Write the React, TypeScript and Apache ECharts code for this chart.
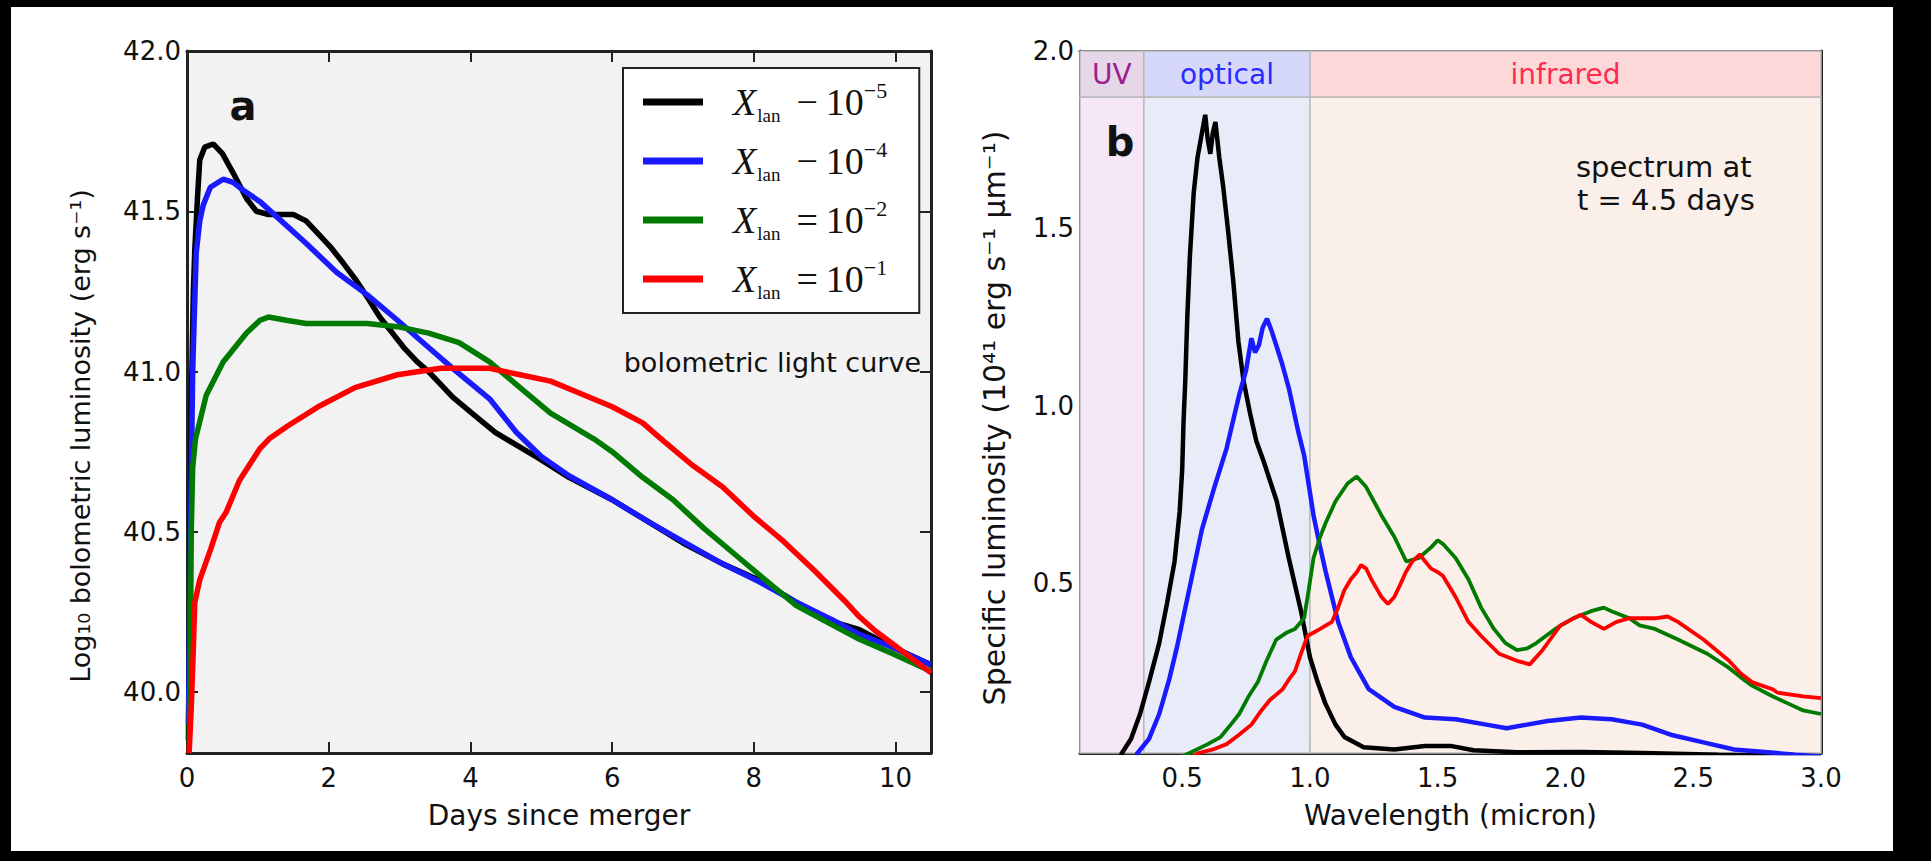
import React, { useEffect, useRef } from "react";
import * as echarts from "echarts";

// ---------- Panel a: bolometric light curves ----------
const seriesNames = ["X_lan = 1e-5", "X_lan = 1e-4", "X_lan = 1e-2", "X_lan = 1e-1"];
const legendOps = ["−", "−", "=", "="];
const legendExps = ["−5", "−4", "−2", "−1"];
const seriesColors = ["#000000", "#1a1aff", "#007a00", "#ff0000"];

const daysTicks = [0, 2, 4, 6, 8, 10];
const logLTicks = [40.0, 40.5, 41.0, 41.5, 42.0];

const lcBlack: number[][] = [
  [0.02, 39.85], [0.04, 40.3], [0.06, 40.9], [0.09, 41.25], [0.11, 41.38], [0.15, 41.55], [0.18, 41.66],
  [0.25, 41.7], [0.37, 41.71], [0.5, 41.68], [0.65, 41.62], [0.84, 41.54], [0.98, 41.5], [1.15, 41.49],
  [1.33, 41.49], [1.5, 41.49], [1.68, 41.47], [1.85, 41.43], [2.02, 41.39], [2.2, 41.34], [2.37, 41.29],
  [2.55, 41.23], [2.72, 41.17], [2.9, 41.12], [3.06, 41.075], [3.25, 41.03], [3.41, 41.0], [3.6, 40.955],
  [3.75, 40.92], [4.05, 40.865], [4.35, 40.81], [4.96, 40.73], [5.39, 40.67], [6.0, 40.6], [6.52, 40.53],
  [7.04, 40.46], [7.56, 40.4], [8.07, 40.35], [8.6, 40.28], [9.11, 40.22], [9.49, 40.195], [9.96, 40.14],
  [10.5, 40.085],
];
const lcBlue: number[][] = [
  [0.02, 39.9], [0.05, 40.5], [0.08, 41.0], [0.1, 41.15], [0.13, 41.37], [0.18, 41.47], [0.23, 41.52],
  [0.33, 41.575], [0.51, 41.6], [0.65, 41.59], [0.8, 41.565], [1.03, 41.53], [1.33, 41.47], [1.68, 41.4],
  [2.11, 41.31], [2.54, 41.24], [2.97, 41.16], [3.41, 41.075], [3.75, 41.01], [4.27, 40.915], [4.65, 40.81],
  [5.0, 40.735], [5.39, 40.675], [6.0, 40.6], [6.52, 40.53], [7.04, 40.465], [7.56, 40.4], [8.07, 40.345],
  [8.6, 40.28], [9.11, 40.225], [9.49, 40.18], [9.96, 40.14], [10.5, 40.085],
];
const lcGreen: number[][] = [
  [0.03, 39.85], [0.05, 40.2], [0.06, 40.5], [0.08, 40.7], [0.12, 40.79], [0.27, 40.925], [0.51, 41.03],
  [0.84, 41.12], [1.03, 41.16], [1.15, 41.17], [1.4, 41.16], [1.68, 41.15], [2.1, 41.15], [2.54, 41.15],
  [2.97, 41.14], [3.41, 41.12], [3.84, 41.09], [4.27, 41.03], [4.7, 40.95], [5.13, 40.87], [5.74, 40.79],
  [6.0, 40.75], [6.43, 40.67], [6.86, 40.6], [7.3, 40.51], [7.73, 40.43], [8.16, 40.35], [8.6, 40.27],
  [9.02, 40.22], [9.49, 40.165], [9.96, 40.12], [10.5, 40.065],
];
const lcRed: number[][] = [
  [0.03, 39.81], [0.06, 39.95], [0.09, 40.14], [0.11, 40.28], [0.18, 40.35], [0.34, 40.45], [0.46, 40.53],
  [0.55, 40.56], [0.74, 40.66], [1.03, 40.76], [1.16, 40.79], [1.42, 40.83], [1.85, 40.89], [2.37, 40.95],
  [2.97, 40.99], [3.58, 41.01], [4.27, 41.01], [4.7, 40.99], [5.13, 40.97], [5.57, 40.93], [6.0, 40.89],
  [6.43, 40.84], [6.69, 40.79], [7.12, 40.71], [7.56, 40.64], [7.99, 40.55], [8.42, 40.47], [8.85, 40.38],
  [9.28, 40.285], [9.49, 40.235], [9.72, 40.19], [9.96, 40.15], [10.5, 40.06],
];

// ---------- Panel b: spectra at t = 4.5 days ----------
const waveTicks = [0.5, 1.0, 1.5, 2.0, 2.5, 3.0];
const specTicks = [0.5, 1.0, 1.5, 2.0];
const bandNames = ["UV", "optical", "infrared"];
const bandEdges = [0.1, 0.35, 1.0, 3.0];
const headerBottom = 1.87;

const spBlack: number[][] = [
  [0.26, 0.015], [0.3, 0.06], [0.335, 0.13], [0.37, 0.22], [0.41, 0.33], [0.44, 0.44], [0.47, 0.56],
  [0.49, 0.7], [0.5, 0.82], [0.505, 0.95], [0.512, 1.07], [0.52, 1.25], [0.53, 1.42], [0.545, 1.6],
  [0.56, 1.7], [0.575, 1.76], [0.59, 1.82], [0.6, 1.75], [0.61, 1.71], [0.62, 1.77], [0.63, 1.8],
  [0.645, 1.7], [0.66, 1.62], [0.68, 1.49], [0.7, 1.35], [0.72, 1.18], [0.74, 1.07], [0.765, 0.98],
  [0.79, 0.9], [0.82, 0.84], [0.87, 0.73], [0.917, 0.57], [0.965, 0.42], [1.0, 0.29], [1.03, 0.22],
  [1.06, 0.16], [1.1, 0.1], [1.135, 0.065], [1.21, 0.036], [1.33, 0.03], [1.45, 0.04], [1.55, 0.04],
  [1.64, 0.028], [1.81, 0.022], [2.06, 0.023], [2.3, 0.02], [2.6, 0.015], [3.0, 0.01],
];
const spBlue: number[][] = [
  [0.32, 0.015], [0.37, 0.06], [0.41, 0.13], [0.45, 0.23], [0.48, 0.32], [0.53, 0.49], [0.577, 0.65],
  [0.626, 0.77], [0.674, 0.88], [0.7, 0.96], [0.723, 1.03], [0.75, 1.1], [0.771, 1.19], [0.785, 1.15],
  [0.8, 1.17], [0.815, 1.22], [0.832, 1.245], [0.85, 1.21], [0.868, 1.17], [0.89, 1.12], [0.917, 1.05],
  [0.953, 0.93], [0.977, 0.86], [1.014, 0.69], [1.04, 0.6], [1.062, 0.53], [1.086, 0.46], [1.11, 0.39],
  [1.16, 0.29], [1.23, 0.2], [1.33, 0.15], [1.45, 0.12], [1.57, 0.115], [1.69, 0.1], [1.77, 0.09],
  [1.85, 0.1], [1.93, 0.11], [2.06, 0.12], [2.18, 0.115], [2.3, 0.1], [2.42, 0.07], [2.54, 0.05],
  [2.66, 0.03], [2.78, 0.023], [2.9, 0.015], [3.0, 0.01],
];
const spGreen: number[][] = [
  [0.5, 0.01], [0.529, 0.02], [0.6, 0.045], [0.65, 0.065], [0.69, 0.1], [0.723, 0.13], [0.76, 0.18],
  [0.796, 0.22], [0.83, 0.28], [0.868, 0.34], [0.91, 0.36], [0.941, 0.37], [0.977, 0.4], [0.995, 0.48],
  [1.014, 0.57], [1.04, 0.63], [1.062, 0.67], [1.1, 0.73], [1.147, 0.78], [1.183, 0.8], [1.22, 0.77],
  [1.25, 0.73], [1.28, 0.69], [1.33, 0.63], [1.377, 0.56], [1.426, 0.57], [1.474, 0.6], [1.5, 0.62],
  [1.52, 0.61], [1.57, 0.57], [1.62, 0.51], [1.67, 0.43], [1.72, 0.37], [1.765, 0.33], [1.81, 0.31],
  [1.85, 0.315], [1.886, 0.33], [1.96, 0.37], [2.03, 0.4], [2.1, 0.42], [2.15, 0.43], [2.18, 0.42],
  [2.25, 0.4], [2.29, 0.38], [2.35, 0.37], [2.44, 0.34], [2.555, 0.3], [2.64, 0.26], [2.685, 0.234],
  [2.73, 0.21], [2.81, 0.18], [2.87, 0.16], [2.93, 0.14], [3.0, 0.13],
];
const spRed: number[][] = [
  [0.54, 0.01], [0.565, 0.02], [0.62, 0.03], [0.674, 0.045], [0.72, 0.07], [0.771, 0.1], [0.81, 0.14],
  [0.844, 0.17], [0.893, 0.2], [0.92, 0.23], [0.941, 0.25], [0.965, 0.3], [0.99, 0.35], [1.04, 0.37],
  [1.086, 0.39], [1.11, 0.43], [1.135, 0.48], [1.16, 0.51], [1.183, 0.53], [1.2, 0.55], [1.22, 0.54],
  [1.24, 0.51], [1.256, 0.49], [1.28, 0.46], [1.305, 0.44], [1.33, 0.46], [1.35, 0.49], [1.375, 0.53],
  [1.4, 0.56], [1.43, 0.58], [1.44, 0.57], [1.474, 0.54], [1.5, 0.53], [1.52, 0.52], [1.57, 0.46],
  [1.62, 0.39], [1.67, 0.35], [1.74, 0.3], [1.81, 0.28], [1.86, 0.27], [1.91, 0.31], [1.95, 0.35],
  [1.98, 0.38], [2.06, 0.41], [2.1, 0.39], [2.15, 0.37], [2.2, 0.39], [2.25, 0.4], [2.29, 0.4],
  [2.35, 0.4], [2.4, 0.405], [2.44, 0.39], [2.54, 0.34], [2.64, 0.28], [2.685, 0.245], [2.73, 0.22],
  [2.81, 0.2], [2.83, 0.19], [2.93, 0.18], [3.0, 0.175],
];

const lightCurves = [lcBlack, lcBlue, lcGreen, lcRed];
const spectra = [spBlack, spBlue, spGreen, spRed];

const yTitleA = "Log₁₀ bolometric luminosity (erg s⁻¹)";
const yTitleB = "Specific luminosity (10⁴¹ erg s⁻¹ μm⁻¹)";

// ---------- styles ----------
const FONT = "DejaVu Sans";
const SERIF = "Liberation Serif";
const AXIS = "#222222";
const bandBodyColors = ["#f5e7f5", "#e7ecf8", "#fbefe9"];
const bandHeadColors = ["#e5d7e8", "#d6d8fa", "#fcd8d9"];
const bandTextColors = ["#9b2090", "#2b2bff", "#ff2a50"];

const xAxisBase = (gridIndex: number, min: number, max: number, ticks: number[], top: boolean, name?: string, fmt?: (v: number) => string) => ({
  gridIndex,
  type: "value",
  min,
  max,
  position: top ? "top" : "bottom",
  axisLine: { show: true, onZero: false, lineStyle: { color: AXIS, width: 3 } },
  axisTick: { show: true, inside: true, length: 11, customValues: ticks, lineStyle: { color: AXIS, width: 2 } },
  axisLabel: {
    show: !top,
    customValues: ticks,
    margin: 12,
    fontSize: 26,
    fontFamily: FONT,
    color: "#111",
    formatter: fmt,
  },
  splitLine: { show: false },
  name: top ? undefined : name,
  nameLocation: "middle",
  nameGap: 48,
  nameTextStyle: { fontSize: 28, fontFamily: FONT, color: "#111" },
});

const yAxisBase = (gridIndex: number, min: number, max: number, ticks: number[], right: boolean) => ({
  gridIndex,
  type: "value",
  min,
  max,
  position: right ? "right" : "left",
  axisLine: { show: true, onZero: false, lineStyle: { color: AXIS, width: 3 } },
  axisTick: { show: true, inside: true, length: 11, customValues: ticks, lineStyle: { color: AXIS, width: 2 } },
  axisLabel: {
    show: !right,
    customValues: ticks,
    margin: 6,
    fontSize: 26,
    fontFamily: FONT,
    color: "#111",
    formatter: (v: number) => v.toFixed(1),
  },
  splitLine: { show: false },
});

const centeredText = (text: string, x: number, y: number, size: number, extra: any = {}) => ({
  type: "text",
  x,
  y,
  z: 100,
  rotation: extra.rotation || 0,
  style: {
    text,
    fontSize: size,
    fontWeight: extra.bold ? "bold" : "normal",
    fontFamily: FONT,
    fill: "#111",
    align: extra.align || "center",
    textAlign: extra.align || "center",
    verticalAlign: "middle",
    textVerticalAlign: "middle",
  },
});

export default function App() {
  const ref = useRef<HTMLDivElement>(null);

  useEffect(() => {
    if (!ref.current) return;
    const chart = echarts.init(ref.current, null, { renderer: "svg" });

    const bandAreas: any[] = [];
    bandNames.forEach((nm, i) => {
      bandAreas.push([
        {
          xAxis: bandEdges[i],
          yAxis: 0.02,
          itemStyle: { color: bandBodyColors[i], borderColor: "#b9b9b9", borderWidth: 1.5 },
          label: { show: false },
        },
        { xAxis: bandEdges[i + 1], yAxis: headerBottom },
      ]);
      bandAreas.push([
        {
          name: nm,
          xAxis: bandEdges[i],
          yAxis: headerBottom,
          itemStyle: { color: bandHeadColors[i], borderColor: "#b9b9b9", borderWidth: 1.5 },
          label: {
            show: true,
            position: "inside",
            color: bandTextColors[i],
            fontSize: 28,
            fontFamily: FONT,
          },
        },
        { xAxis: bandEdges[i + 1], yAxis: 2.0 },
      ]);
    });

    const series: any[] = [];
    lightCurves.forEach((d, i) => {
      series.push({
        type: "line",
        name: seriesNames[i],
        xAxisIndex: 0,
        yAxisIndex: 0,
        data: d,
        symbol: "none",
        color: seriesColors[i],
        lineStyle: { color: seriesColors[i], width: 5.5 },
        clip: true,
      });
    });
    spectra.forEach((d, i) => {
      series.push({
        type: "line",
        name: seriesNames[i],
        xAxisIndex: 2,
        yAxisIndex: 2,
        data: d,
        symbol: "none",
        color: seriesColors[i],
        lineStyle: { color: seriesColors[i], width: i < 2 ? 4.5 : 3.8 },
        clip: true,
        markArea: i === 0 ? { silent: true, data: bandAreas } : undefined,
      });
    });

    const option: any = {
      animation: false,
      backgroundColor: "#ffffff",
      textStyle: { fontFamily: FONT },
      grid: [
        { left: 176, top: 44, width: 744, height: 702, show: true, backgroundColor: "#f2f2f2", borderWidth: 0 },
        { left: 1069, top: 44, width: 741, height: 702, show: false },
      ],
      xAxis: [
        xAxisBase(0, 0, 10.5, daysTicks, false, "Days since merger", (v: number) => String(v)),
        xAxisBase(0, 0, 10.5, daysTicks, true),
        xAxisBase(1, 0.1, 3.0, waveTicks, false, "Wavelength (micron)", (v: number) => v.toFixed(1)),
        xAxisBase(1, 0.1, 3.0, waveTicks, true),
      ],
      yAxis: [
        yAxisBase(0, 39.81, 42.0, logLTicks, false),
        yAxisBase(0, 39.81, 42.0, logLTicks, true),
        yAxisBase(1, 0.02, 2.0, specTicks, false),
        yAxisBase(1, 0.02, 2.0, specTicks, true),
      ],
      legend: {
        data: seriesNames,
        left: 612,
        top: 61,
        orient: "vertical",
        icon: "rect",
        itemWidth: 60,
        itemHeight: 7,
        itemGap: 13,
        padding: [11, 32, 11, 20],
        backgroundColor: "#ffffff",
        borderColor: "#222222",
        borderWidth: 2,
        selectedMode: false,
        formatter: (name: string) => {
          const i = seriesNames.indexOf(name);
          return `{x|X}{sub|lan}{op|${legendOps[i]}}{ten|10}{sup|${legendExps[i]}}`;
        },
        textStyle: {
          rich: {
            x: { fontFamily: SERIF, fontStyle: "italic", fontSize: 38, lineHeight: 46, verticalAlign: "middle", color: "#111", padding: [0, 0, 0, 25] },
            sub: { fontFamily: SERIF, fontSize: 19, lineHeight: 19, verticalAlign: "bottom", color: "#111", padding: [0, 8, 0, 1] },
            op: { fontFamily: SERIF, fontSize: 38, lineHeight: 46, verticalAlign: "middle", color: "#111", padding: [0, 8, 0, 8] },
            ten: { fontFamily: SERIF, fontSize: 38, lineHeight: 46, verticalAlign: "middle", color: "#111" },
            sup: { fontFamily: SERIF, fontSize: 22, lineHeight: 22, verticalAlign: "top", color: "#111" },
          },
        },
      },
      graphic: [
        centeredText(yTitleA, 69, 429, 27, { rotation: Math.PI / 2 }),
        centeredText(yTitleB, 983, 411, 30, { rotation: Math.PI / 2 }),
        centeredText("a", 232, 99, 40, { bold: true }),
        centeredText("bolometric light curve", 910, 355, 27, { align: "right" }),
        centeredText("b", 1109, 135, 40, { bold: true }),
        centeredText("spectrum at", 1565, 160, 29, { align: "left" }),
        centeredText("t = 4.5 days", 1566, 193, 29, { align: "left" }),
      ],
      series,
    };

    chart.setOption(option);
    return () => chart.dispose();
  }, []);

  return (
    <div style={{ position: "fixed", left: 0, top: 0, width: 1931, height: 861, background: "#000" }}>
      <div ref={ref} style={{ position: "absolute", left: 11, top: 7, width: 1882, height: 844, background: "#fff" }} />
    </div>
  );
}
